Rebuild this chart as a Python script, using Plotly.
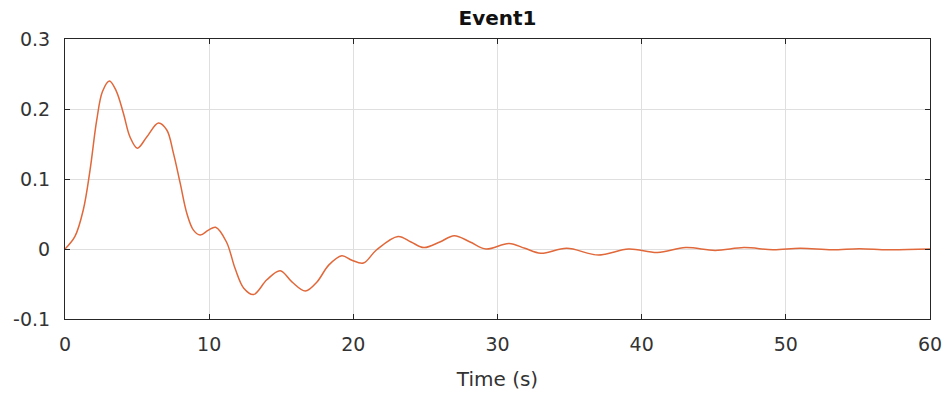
import plotly.graph_objects as go

# Response of Event1 over time (key points along the trace)
time_s = [0.0, 0.69, 1.27, 1.74, 2.2, 2.6, 3.08, 3.55, 4.05, 4.51, 5.02,
          5.67, 6.48, 7.06, 7.52, 7.99, 8.45, 8.91, 9.375, 9.95, 10.45,
          11.2, 11.8, 12.4, 13.08, 14.0, 14.93, 15.74, 16.67, 17.48, 18.29,
          19.2, 19.9, 20.7, 21.6, 23.1, 24.0, 24.9, 26.0, 27.0, 28.1, 29.2,
          30.8, 31.9, 33.0, 34.8, 37.0, 39.1, 41.1, 43.05, 45.1, 47.1, 49.1,
          51.0, 53.2, 55.1, 57.1, 60.0]
response = [0.0, 0.018, 0.056, 0.113, 0.184, 0.225, 0.240, 0.226, 0.194, 0.160,
            0.144, 0.160, 0.180, 0.170, 0.137, 0.094, 0.051, 0.027, 0.020, 0.027,
            0.031, 0.010, -0.028, -0.056, -0.065, -0.044, -0.031, -0.047, -0.060,
            -0.047, -0.023, -0.0095, -0.016, -0.020, -0.0014, 0.018, 0.010, 0.002,
            0.010, 0.019, 0.010, 0.0, 0.008, 0.001, -0.006, 0.001, -0.0086, 0.0,
            -0.005, 0.002, -0.002, 0.002, -0.001, 0.001, -0.001, 0.0005, -0.001,
            0.0]

x_ticks = [0, 10, 20, 30, 40, 50, 60]
y_ticks = [-0.1, 0, 0.1, 0.2, 0.3]
y_tick_text = ["-0.1", "0", "0.1", "0.2", "0.3"]

axis_color = "#262626"
text_color = "#333333"
grid_color = "#dfdfdf"
font_family = "DejaVu Sans, Liberation Sans, Arial, sans-serif"

fig = go.Figure()
fig.add_trace(go.Scatter(
    x=time_s, y=response, mode="lines",
    line=dict(color="#E0683A", width=1.5, shape="spline", smoothing=1.0),
    showlegend=False, hoverinfo="x+y",
))

axis_common = dict(
    showline=True, linecolor=axis_color, linewidth=1, mirror="allticks",
    ticks="inside", ticklen=5, tickcolor=axis_color, tickwidth=1,
    showgrid=True, gridcolor=grid_color, gridwidth=1, zeroline=False,
    automargin=False,
    tickfont=dict(family=font_family, size=19, color=text_color),
)

fig.update_xaxes(
    range=[0, 60], tickvals=x_ticks, ticktext=[str(v) for v in x_ticks],
    ticklabelstandoff=8,
    title=dict(text="Time (s)", font=dict(family=font_family, size=20, color=text_color),
               standoff=18),
    **axis_common,
)
fig.update_yaxes(
    range=[-0.1, 0.3], tickvals=y_ticks, ticktext=y_tick_text,
    ticklabelstandoff=10,
    **axis_common,
)

fig.update_layout(
    width=946, height=397,
    margin=dict(l=65, r=16, t=39, b=78),
    paper_bgcolor="white", plot_bgcolor="white",
    title=dict(text="<b>Event1</b>", x=(65 + 930) / 2 / 946,
               xanchor="center", y=1 - 18 / 397, yanchor="middle",
               font=dict(family=font_family, size=20, color="#111111")),
)

fig.write_html("out.html")
